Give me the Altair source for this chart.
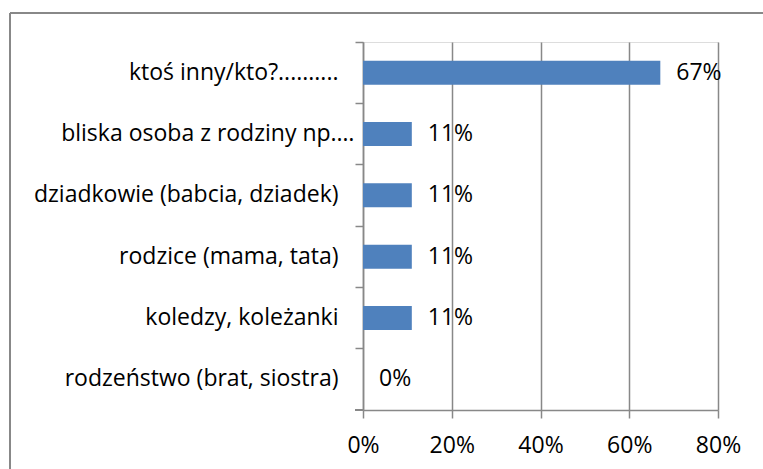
import altair as alt
import pandas as pd

# Answer categories (top to bottom) and their shares
categories = [
    "ktoś inny/kto?..........",
    "bliska osoba z rodziny np.…",
    "dziadkowie (babcia, dziadek)",
    "rodzice (mama, tata)",
    "koledzy, koleżanki",
    "rodzeństwo (brat, siostra)",
]
shares = [0.67, 0.11, 0.11, 0.11, 0.11, 0.00]
x_ticks = [0.0, 0.2, 0.4, 0.6, 0.8]

df = pd.DataFrame({"kategoria": categories, "udzial": shares})

FONT = "Open Sans"
FS = 23
GRID = "#888888"
BAR = "#4F81BD"
W, H = 355, 368

y_enc = alt.Y(
    "kategoria:N",
    sort=categories,
    scale=alt.Scale(paddingInner=0, paddingOuter=0),
    axis=alt.Axis(
        title=None,
        bandPosition=0,
        labelLimit=400,
        labelFontSize=FS,
        labelFont=FONT,
        labelColor="black",
        labelPadding=alt.condition(
            "indexof(datum.value, 'bliska') == 0", alt.value(1), alt.value(17)
        ),
        tickSize=8,
        tickColor=GRID,
        tickWidth=1.5,
        domainColor=GRID,
        domainWidth=1.5,
        grid=False,
    ),
)

x_enc = alt.X(
    "udzial:Q",
    scale=alt.Scale(domain=[0, 0.8], nice=False),
    axis=alt.Axis(
        title=None,
        values=x_ticks,
        format=".0%",
        labelFlush=False,
        grid=True,
        gridColor=GRID,
        gridWidth=1.5,
        tickSize=8,
        tickColor=GRID,
        tickWidth=1.5,
        domainColor=GRID,
        domainWidth=1.5,
        labelFontSize=FS,
        labelFont=FONT,
        labelColor="black",
        labelPadding=16,
    ),
)

bars = alt.Chart(df).mark_bar(
    color=BAR, height=alt.RelativeBandSize(0.39)
).encode(x=x_enc, y=y_enc)

labels = alt.Chart(df).mark_text(
    align="left", baseline="middle", dx=16, font=FONT, fontSize=FS, color="black"
).encode(
    x=alt.X("udzial:Q"),
    y=alt.Y("kategoria:N", sort=categories),
    text=alt.Text("udzial:Q", format=".0%"),
)

# closing tick under the last category on the left axis
end_tick = alt.Chart(df).mark_rule(color=GRID, strokeWidth=1.5).encode(
    x=alt.value(-8), x2=alt.value(0), y=alt.value(H)
)

# outer chart frame (left and top edges)
frame_left = alt.Chart(df).mark_rule(color=GRID, strokeWidth=1.5).encode(
    x=alt.value(-353), y=alt.value(-29), y2=alt.value(430)
)
frame_top = alt.Chart(df).mark_rule(color=GRID, strokeWidth=1.5).encode(
    x=alt.value(-353), x2=alt.value(410), y=alt.value(-29)
)

chart = (
    alt.layer(bars, labels, end_tick, frame_left, frame_top)
    .properties(
        width=W,
        height=H,
        autosize=alt.AutoSizeParams(type="none"),
        padding={"left": 363, "top": 42, "right": 45, "bottom": 59},
        background="white",
    )
    .configure_view(stroke=None)
    .configure(font=FONT)
)

chart.save("out.html", embed_options={"renderer": "svg", "actions": False})
